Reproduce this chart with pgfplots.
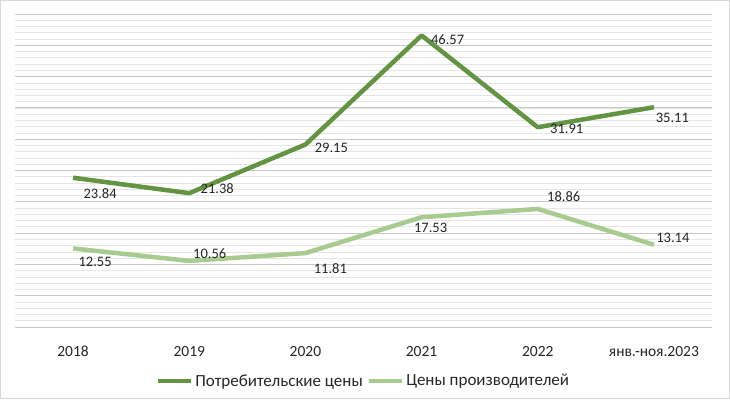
\documentclass[border=0pt]{standalone}
\usepackage{fontspec}
\setmainfont{Carlito}
\usepackage{pgfplots}
\pgfplotsset{compat=1.18}
\definecolor{cons}{RGB}{98,148,66}
\definecolor{prod}{RGB}{168,204,144}
\definecolor{txt}{RGB}{38,38,38}
\begin{document}
\begin{tikzpicture}
\begin{axis}[
  at={(0,0)}, anchor=south west,
  scale only axis, width=697pt, height=313pt,
  xmin=-0.5, xmax=5.5, ymin=0, ymax=50,
  xtick={0,1,2,3,4,5},
  xticklabels={2018,2019,2020,2021,2022,{янв.-ноя.2023}},
  ytick={0,5,...,50}, minor ytick={0,1,...,50},
  yticklabels={},
  ymajorgrids, yminorgrids,
  major grid style={draw=black!22, line width=0.9pt},
  minor grid style={draw=black!10, line width=0.7pt},
  axis line style={draw=none},
  major tick length=0pt, minor tick length=0pt,
  tick style={draw=none},
  xticklabel style={font=\fontsize{15.5}{18}\selectfont, text=txt, anchor=base, yshift=-29pt},
  clip=false,
  legend style={at={(0.5,-0.1725)}, anchor=center, legend columns=2, draw=none, fill=none,
    font=\fontsize{17}{19}\selectfont, text=txt,
    /tikz/every even column/.append style={column sep=2pt},
    /tikz/every odd column/.append style={column sep=0pt},
    inner sep=0pt},
  legend image code/.code={\draw[#1, line width=4.5pt] (0pt,0pt) -- (33pt,0pt);},
  every node near coord/.append style={font=\fontsize{14.5}{17}\selectfont, text=txt, anchor=center},
]
\addplot[cons, line width=4.5pt, line join=round, mark=none,
  nodes near coords, point meta=explicit symbolic,
  visualization depends on={\thisrow{dx} \as \dx},
  visualization depends on={\thisrow{dy} \as \dy},
  nodes near coords style={xshift=\dx pt, yshift=\dy pt}]
  table[x=x, y=y, meta=lab] {
x y lab dx dy
0 23.84 23.84 27 -15.5
1 21.38 21.38 28 5
2 29.15 29.15 26 -3
3 46.57 46.57 26 -4
4 31.91 31.91 29 -2
5 35.11 35.11 18.5 -11
};
\addlegendentry{Потребительские цены}
\addplot[prod, line width=4.5pt, line join=round, mark=none,
  nodes near coords, point meta=explicit symbolic,
  visualization depends on={\thisrow{dx} \as \dx},
  visualization depends on={\thisrow{dy} \as \dy},
  nodes near coords style={xshift=\dx pt, yshift=\dy pt}]
  table[x=x, y=y, meta=lab] {
x y lab dx dy
0 12.55 12.55 22 -13
1 10.56 10.56 20.5 7.5
2 11.81 11.81 25 -16
3 17.53 17.53 9 -11
4 18.86 18.86 26 12
5 13.14 13.14 19 7
};
\addlegendentry{Цены производителей}
\end{axis}
\draw[black!22, line width=0.9pt] (0pt,0pt) -- (697pt,0pt);
\draw[black!15, line width=1pt] (-14.5pt,-71.5pt) rectangle (714.5pt,326.5pt);
\pgfresetboundingbox
\useasboundingbox (-15pt,-72pt) rectangle (715pt,327pt);
\end{tikzpicture}
\end{document}
